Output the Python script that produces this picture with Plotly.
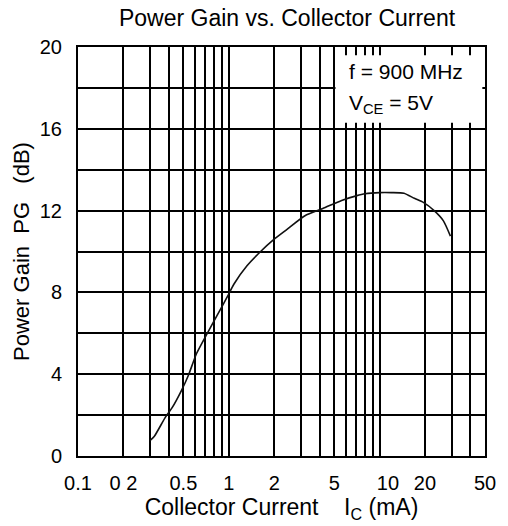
import plotly.graph_objects as go

# Collector current (mA) and power gain (dB)
ic_ma = [0.30, 0.32, 0.38, 0.42, 0.485, 0.54, 0.61, 0.72, 0.84, 0.98, 1.08, 1.32,
         1.6, 2.0, 2.4, 3.2, 4.2, 5.6, 7.0, 8.0, 10, 12, 14.5, 17, 19.5, 23, 26.5, 29.5]
pg_db = [0.75, 0.95, 1.9, 2.35, 3.2, 3.95, 5.0, 6.0, 6.9, 7.8, 8.4, 9.3,
         9.95, 10.6, 11.05, 11.75, 12.1, 12.5, 12.72, 12.82, 12.88, 12.88, 12.85, 12.6, 12.4, 12.0, 11.5, 10.75]

x_tick_vals = [0.1, 0.2, 0.5, 1, 2, 5, 10, 20, 50]
x_tick_text = ["0.1", "0 2", "0.5", "1", "2", "5", "\u00a0\u00a0\u00a010", "20", "50"]
x_minor_vals = [0.3, 0.4, 0.6, 0.7, 0.8, 0.9, 3, 4, 6, 7, 8, 9, 30, 40]
y_tick_vals = [0, 4, 8, 12, 16, 20]

FONT = "Liberation Sans, Arial, sans-serif"

fig = go.Figure()
fig.add_trace(go.Scatter(x=ic_ma, y=pg_db, mode="lines",
                         line=dict(color="#111111", width=1.6, shape="spline", smoothing=0.6),
                         showlegend=False, hoverinfo="skip"))

fig.update_layout(
    width=508, height=526,
    margin=dict(l=78, r=14, t=47, b=62),
    paper_bgcolor="white", plot_bgcolor="white",
    font=dict(family=FONT, color="black", size=20),
    title=dict(text="Power Gain vs. Collector Current",
               font=dict(family=FONT, size=23, color="black"),
               x=0.565, xanchor="center", y=0.965, yanchor="middle"),
    showlegend=False,
)

fig.update_xaxes(
    type="log", range=[-1, 1.69897],
    tickmode="array", tickvals=x_tick_vals, ticktext=x_tick_text,
    showgrid=True, gridcolor="black", gridwidth=2,
    minor=dict(tickmode="array", tickvals=x_minor_vals, showgrid=True,
               gridcolor="black", gridwidth=2, ticklen=0),
    showline=True, linecolor="black", linewidth=2, mirror=True,
    ticks="", ticklabelstandoff=8,
    tickfont=dict(size=20, family=FONT),
    title=dict(text="\u00a0\u00a0\u00a0Collector Current\u00a0\u00a0\u00a0\u00a0I<sub>C</sub>\u00a0(mA)",
               font=dict(size=23, family=FONT), standoff=4),
    zeroline=False,
)

fig.update_yaxes(
    range=[0, 20],
    tickmode="array", tickvals=y_tick_vals,
    showgrid=True, gridcolor="black", gridwidth=2,
    minor=dict(dtick=2, showgrid=True, gridcolor="black", gridwidth=2, ticklen=0),
    showline=True, linecolor="black", linewidth=2, mirror=True,
    ticks="", ticklabelstandoff=10,
    tickfont=dict(size=20, family=FONT),
    title=dict(text="Power Gain\u00a0\u00a0PG\u00a0\u00a0\u00a0(dB)",
               font=dict(size=22, family=FONT), standoff=4),
    zeroline=False,
)

# white inset box covering grid for the condition text
fig.add_shape(type="rect", xref="x", yref="y", x0=5.1, x1=48, y0=16.3, y1=19.6,
              fillcolor="white", line=dict(width=0), layer="above")

# annotation x on a log axis is given as log10 of the value
fig.add_annotation(xref="x", yref="y", x=0.785, y=18.8, xanchor="left", yanchor="middle",
                   text="f = 900 MHz", showarrow=False,
                   font=dict(size=21, family=FONT, color="black"))
fig.add_annotation(xref="x", yref="y", x=0.785, y=17.2, xanchor="left", yanchor="middle",
                   text="V<sub>CE</sub> = 5V", showarrow=False,
                   font=dict(size=21, family=FONT, color="black"))

fig.write_html("out.html")
